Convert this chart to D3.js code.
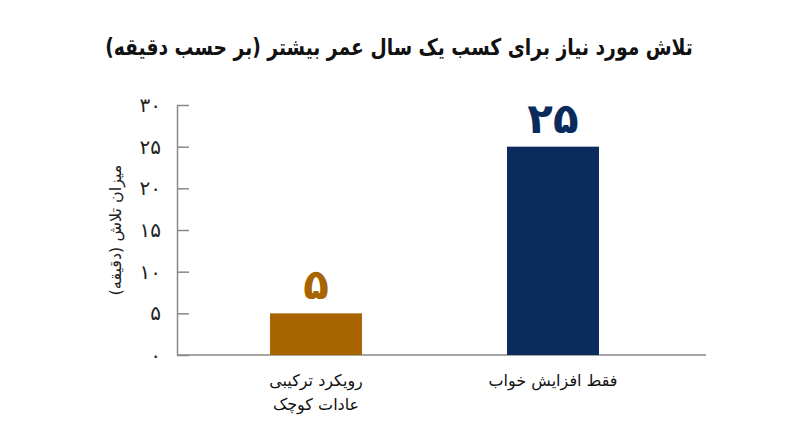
<!DOCTYPE html>
<html lang="fa">
<head>
<meta charset="utf-8">
<script src="https://cdn.jsdelivr.net/npm/d3@7"></script>
<style>
  body { margin: 0; background: #fff; }
  text { font-family: "DejaVu Sans", sans-serif; }
</style>
</head>
<body>
<div id="chart"></div>
<script>
var categories = ["رویکرد ترکیبی|عادات کوچک", "فقط افزایش خواب"];
var values = [5, 25];
var colors = ["#a86400", "#0b2b5c"];
var yTicks = [0, 5, 10, 15, 20, 25, 30];

var title = "تلاش مورد نیاز برای کسب یک سال عمر بیشتر (بر حسب دقیقه)";
var yTitle = "میزان تلاش (دقیقه)";

var width = 800;
var height = 447;

var faDigits = "۰۱۲۳۴۵۶۷۸۹";
const toFa = (n) => String(n).replace(/[0-9]/g, function (c) { return faDigits[+c]; });

var svg = d3.select("#chart")
  .append("svg")
  .attr("width", width)
  .attr("height", height);

var x = d3.scaleBand()
  .domain(categories)
  .range([177, 706])
  .paddingInner(0.612)
  .paddingOuter(0.422)
  .align(0.465);

var y = d3.scaleLinear()
  .domain([0, 30])
  .range([355, 105]);

// title (DejaVu arabic runs wide, squeeze it a bit)
svg.append("text")
  .attr("transform", "translate(399,55) scale(0.815,1)")
  .attr("direction", "rtl")
  .attr("text-anchor", "middle")
  .attr("style", "font-size: 23px; font-weight: bold; fill: #111")
  .text(title);

// y axis
var yAxis = svg.append("g")
  .attr("transform", "translate(177,0)")
  .call(d3.axisLeft(y).tickValues(yTicks).tickSizeInner(-12).tickSizeOuter(0).tickPadding(16).tickFormat(toFa));

yAxis.select(".domain").attr("stroke", "#888").attr("stroke-width", 1.5);
yAxis.selectAll(".tick line").attr("stroke", "#888").attr("stroke-width", 1.5);
yAxis.selectAll(".tick text")
  .attr("font-size", null)
  .attr("style", "font-size: 20px; fill: #222");

// x baseline
svg.append("line")
  .attr("x1", 177)
  .attr("x2", 706)
  .attr("y1", y(0))
  .attr("y2", y(0))
  .attr("stroke", "#888")
  .attr("stroke-width", 1.5);

// y title
svg.append("text")
  .attr("transform", "translate(121," + y(15) + ") rotate(-90)")
  .attr("direction", "rtl")
  .attr("text-anchor", "middle")
  .attr("style", "font-size: 16px; fill: #222")
  .text(yTitle);

// bars
svg.selectAll("rect.bar")
  .data(values)
  .enter()
  .append("rect")
  .attr("class", "bar")
  .attr("x", function (d, i) { return x(categories[i]); })
  .attr("y", function (d) { return y(d); })
  .attr("width", x.bandwidth())
  .attr("height", function (d) { return y(0) - y(d); })
  .attr("fill", function (d, i) { return colors[i]; });

// value labels
svg.selectAll("text.value")
  .data(values)
  .enter()
  .append("text")
  .attr("class", "value")
  .attr("x", function (d, i) { return x(categories[i]) + x.bandwidth() / 2; })
  .attr("y", function (d) { return y(d) - 14; })
  .attr("text-anchor", "middle")
  .attr("style", function (d, i) { return "font-size: 42px; font-weight: bold; fill: " + colors[i]; })
  .text(function (d) { return toFa(d); });

// category labels
var cat = svg.selectAll("text.cat")
  .data(categories)
  .enter()
  .append("text")
  .attr("class", "cat")
  .attr("direction", "rtl")
  .attr("text-anchor", "middle")
  .attr("style", "font-size: 16px; fill: #111")
  .attr("transform", function (d) { return "translate(" + (x(d) + x.bandwidth() / 2) + ",386)"; });

cat.selectAll("tspan")
  .data(function (d) { return d.split("|"); })
  .enter()
  .append("tspan")
  .attr("x", 0)
  .attr("dy", function (d, i) { return i === 0 ? 0 : 24; })
  .text(function (d) { return d; });
</script>
</body>
</html>
